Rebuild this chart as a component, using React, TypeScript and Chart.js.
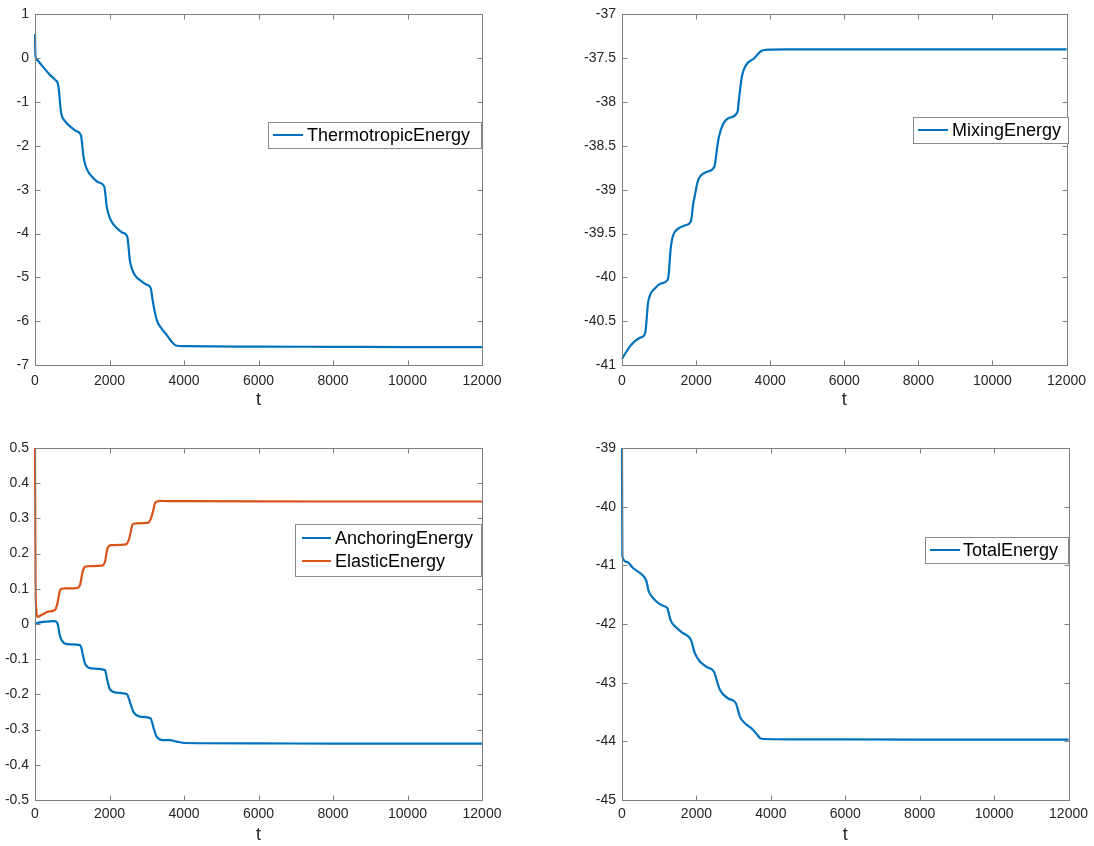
import React, { useEffect, useRef } from "react";
import { Chart, registerables } from "chart.js";

Chart.register(...registerables);

// ---------- data ----------
const xTicks = [0, 2000, 4000, 6000, 8000, 10000, 12000];

const thermoTicks = [1, 0, -1, -2, -3, -4, -5, -6, -7];
const mixingTicks = [-37, -37.5, -38, -38.5, -39, -39.5, -40, -40.5, -41];
const anchorTicks = [0.5, 0.4, 0.3, 0.2, 0.1, 0, -0.1, -0.2, -0.3, -0.4, -0.5];
const totalTicks = [-39, -40, -41, -42, -43, -44, -45];

const thermoT = [0, 10, 40, 200, 400, 550, 615, 645, 675, 710, 790, 950, 1100, 1235, 1265, 1295, 1340, 1420, 1550, 1700, 1860, 1890, 1920, 1970, 2050, 2200, 2350, 2480, 2510, 2545, 2600, 2700, 2850, 3000, 3110, 3145, 3200, 3280, 3400, 3550, 3700, 3800, 4000, 6000, 8000, 10000, 12000];
const thermoE = [0.55, 0.08, -0.02, -0.18, -0.38, -0.5, -0.58, -0.75, -1.05, -1.28, -1.42, -1.56, -1.66, -1.76, -1.95, -2.2, -2.4, -2.58, -2.72, -2.83, -2.93, -3.1, -3.35, -3.55, -3.72, -3.88, -3.98, -4.08, -4.3, -4.6, -4.8, -4.97, -5.08, -5.17, -5.25, -5.45, -5.72, -6.0, -6.17, -6.33, -6.5, -6.56, -6.57, -6.58, -6.585, -6.59, -6.59];

const mixT = [0, 100, 250, 480, 600, 640, 670, 700, 760, 880, 1050, 1230, 1265, 1290, 1320, 1380, 1500, 1680, 1850, 1885, 1915, 1960, 2050, 2270, 2490, 2520, 2560, 2610, 2720, 2900, 3120, 3150, 3190, 3240, 3345, 3570, 3750, 3880, 4500, 8000, 12000];
const mixE = [-40.93, -40.86, -40.77, -40.69, -40.66, -40.6, -40.45, -40.3, -40.2, -40.13, -40.07, -40.03, -39.95, -39.8, -39.65, -39.52, -39.45, -39.41, -39.37, -39.3, -39.18, -39.08, -38.9, -38.8, -38.74, -38.68, -38.55, -38.41, -38.26, -38.18, -38.11, -38.0, -37.85, -37.7, -37.58, -37.5, -37.42, -37.405, -37.4, -37.4, -37.4];

const anchorT = [0, 100, 300, 500, 580, 620, 660, 716, 850, 1210, 1245, 1280, 1342, 1520, 1880, 1910, 1941, 2013, 2190, 2460, 2505, 2550, 2640, 2820, 3100, 3140, 3180, 3266, 3445, 3624, 3800, 4030, 6000, 8000, 10000, 12000];
const anchorE = [0, 0.004, 0.007, 0.008, 0.006, -0.005, -0.03, -0.046, -0.057, -0.06, -0.068, -0.085, -0.112, -0.126, -0.131, -0.143, -0.16, -0.186, -0.195, -0.199, -0.207, -0.222, -0.249, -0.263, -0.268, -0.278, -0.294, -0.32, -0.33, -0.33, -0.334, -0.338, -0.339, -0.34, -0.34, -0.34];

const elasticT = [0, 15, 35, 65, 180, 360, 540, 600, 640, 670, 720, 800, 1120, 1210, 1245, 1280, 1320, 1390, 1790, 1880, 1910, 1940, 1990, 2060, 2440, 2530, 2575, 2612, 2660, 2730, 3040, 3130, 3180, 3220, 3280, 3360, 3600, 4000, 8000, 12000];
const elasticE = [0.5, 0.12, 0.04, 0.02, 0.026, 0.035, 0.04, 0.058, 0.08, 0.095, 0.1, 0.101, 0.102, 0.111, 0.13, 0.149, 0.16, 0.164, 0.166, 0.177, 0.195, 0.213, 0.222, 0.224, 0.226, 0.243, 0.265, 0.281, 0.285, 0.286, 0.288, 0.305, 0.325, 0.343, 0.348, 0.35, 0.349, 0.349, 0.348, 0.348];

const totalT = [0, 10, 125, 304, 572, 644, 680, 706, 800, 932, 1100, 1217, 1250, 1289, 1340, 1423, 1600, 1825, 1880, 1920, 1960, 2094, 2273, 2470, 2505, 2541, 2631, 2854, 3060, 3110, 3168, 3302, 3481, 3600, 3705, 3794, 4500, 8000, 12000];
const totalE = [-39.0, -40.85, -40.94, -41.05, -41.18, -41.25, -41.33, -41.42, -41.53, -41.62, -41.69, -41.73, -41.8, -41.9, -41.98, -42.04, -42.14, -42.24, -42.32, -42.42, -42.5, -42.64, -42.73, -42.81, -42.87, -42.95, -43.12, -43.27, -43.35, -43.45, -43.58, -43.69, -43.78, -43.86, -43.94, -43.96, -43.965, -43.97, -43.97];

// ---------- styles ----------
const FONT = "'Liberation Sans', Arial, Helvetica, sans-serif";
const BLUE = "#0072BD";
const ORANGE = "#D95319";
const AXIS = "#7f7f7f";
const TEXT = "#262626";

const W = 547;
const H = 423;

type Entry = { label: string; color: string; t: number[]; v: number[] };
type Spec = {
  left: number;
  top: number;
  area: { l: number; t: number; r: number; b: number };
  yMin: number;
  yMax: number;
  yTicks: number[];
  xPad: number;
  titlePad: number;
  series: Entry[];
  legend: { x: number; y: number; w: number; h: number; lx0: number; lx1: number; tx: number; rows: number[] };
};

const framePlugin = {
  id: "matlabFrame",
  afterDraw(chart: any, _args: any, opts: any) {
    const { ctx, chartArea: a, scales } = chart;
    ctx.save();
    ctx.strokeStyle = AXIS;
    ctx.lineWidth = 1;
    const L = Math.round(a.left) + 0.5;
    const T = Math.round(a.top) + 0.5;
    const R = Math.round(a.right) + 0.5;
    const B = Math.round(a.bottom) + 0.5;
    ctx.strokeRect(L, T, R - L, B - T);
    const tl = 5;
    ctx.beginPath();
    scales.x.ticks.forEach((tk: any) => {
      const px = Math.round(scales.x.getPixelForValue(tk.value)) + 0.5;
      ctx.moveTo(px, B);
      ctx.lineTo(px, B - tl);
      ctx.moveTo(px, T);
      ctx.lineTo(px, T + tl);
    });
    scales.y.ticks.forEach((tk: any) => {
      const py = Math.round(scales.y.getPixelForValue(tk.value)) + 0.5;
      ctx.moveTo(L, py);
      ctx.lineTo(L + tl, py);
      ctx.moveTo(R, py);
      ctx.lineTo(R - tl, py);
    });
    ctx.stroke();

    const lg = opts.legend;
    const entries = opts.entries;
    ctx.fillStyle = "#ffffff";
    ctx.fillRect(lg.x, lg.y, lg.w, lg.h);
    ctx.strokeStyle = "#8a8a8a";
    ctx.lineWidth = 1;
    ctx.strokeRect(lg.x + 0.5, lg.y + 0.5, lg.w, lg.h);
    entries.forEach((e: any, i: number) => {
      const y = lg.rows[i];
      ctx.strokeStyle = e.color;
      ctx.lineWidth = 2;
      ctx.beginPath();
      ctx.moveTo(lg.lx0, y);
      ctx.lineTo(lg.lx1, y);
      ctx.stroke();
      ctx.fillStyle = "#000000";
      ctx.font = `18px ${FONT}`;
      ctx.textBaseline = "middle";
      ctx.textAlign = "left";
      ctx.fillText(e.label, lg.tx, y + 1);
    });
    ctx.restore();
  },
};

function SubPlot({ spec }: { spec: Spec }) {
  const ref = useRef<HTMLCanvasElement>(null);
  useEffect(() => {
    if (!ref.current) return;
    const s = spec;
    const chart = new Chart(ref.current, {
      type: "line",
      data: {
        datasets: s.series.map((e) => ({
          label: e.label,
          data: e.t.map((x, i) => ({ x, y: e.v[i] })),
          borderColor: e.color,
          backgroundColor: e.color,
          borderWidth: 2.2,
          pointRadius: 0,
          fill: false,
          clip: 3,
          cubicInterpolationMode: "monotone" as const,
        })),
      },
      options: {
        responsive: false,
        maintainAspectRatio: false,
        animation: false,
        events: [],
        layout: { padding: { left: 0, top: s.area.t, right: W - s.area.r, bottom: 0 } },
        plugins: {
          legend: { display: false },
          tooltip: { enabled: false },
          matlabFrame: {
            legend: s.legend,
            entries: s.series.map((e) => ({ label: e.label, color: e.color })),
          },
        } as any,
        scales: {
          x: {
            type: "linear",
            min: 0,
            max: 12000,
            afterBuildTicks: (sc: any) => {
              sc.ticks = xTicks.map((v) => ({ value: v }));
            },
            afterFit: (sc: any) => {
              sc.height = H - s.area.b;
            },
            grid: { display: false, drawTicks: false },
            border: { display: false },
            ticks: {
              padding: s.xPad,
              color: TEXT,
              font: { size: 14, family: FONT },
              maxRotation: 0,
              autoSkip: false,
              callback: (v: any) => String(v),
            },
            title: {
              display: true,
              text: "t",
              color: TEXT,
              font: { size: 18, family: FONT },
              padding: { top: 0, bottom: s.titlePad },
            },
          },
          y: {
            type: "linear",
            min: s.yMin,
            max: s.yMax,
            afterBuildTicks: (sc: any) => {
              sc.ticks = s.yTicks.map((v) => ({ value: v }));
            },
            afterFit: (sc: any) => {
              sc.width = s.area.l;
            },
            grid: { display: false, drawTicks: false },
            border: { display: false },
            ticks: {
              padding: 6,
              color: TEXT,
              font: { size: 14, family: FONT },
              autoSkip: false,
              callback: (v: any) => String(v),
            },
          },
        },
      },
      plugins: [framePlugin],
    });
    return () => chart.destroy();
  }, [spec]);
  return (
    <canvas
      ref={ref}
      width={W}
      height={H}
      style={{ position: "absolute", left: spec.left, top: spec.top, width: W, height: H }}
    />
  );
}

const specs: Spec[] = [
  {
    left: 0,
    top: 0,
    area: { l: 35, t: 12, r: 482, b: 365 },
    yMin: -7,
    yMax: 1,
    yTicks: thermoTicks,
    xPad: 8,
    titlePad: 12,
    series: [{ label: "ThermotropicEnergy", color: BLUE, t: thermoT, v: thermoE }],
    legend: { x: 268, y: 122, w: 213, h: 26, lx0: 273, lx1: 303, tx: 307, rows: [135] },
  },
  {
    left: W,
    top: 0,
    area: { l: 75, t: 12, r: 522, b: 365 },
    yMin: -41,
    yMax: -37,
    yTicks: mixingTicks,
    xPad: 8,
    titlePad: 12,
    series: [{ label: "MixingEnergy", color: BLUE, t: mixT, v: mixE }],
    legend: { x: 366, y: 117, w: 155, h: 26, lx0: 371, lx1: 401, tx: 405, rows: [130] },
  },
  {
    left: 0,
    top: H,
    area: { l: 35, t: 25, r: 482, b: 377 },
    yMin: -0.5,
    yMax: 0.5,
    yTicks: anchorTicks,
    xPad: 6,
    titlePad: 0,
    series: [
      { label: "AnchoringEnergy", color: BLUE, t: anchorT, v: anchorE },
      { label: "ElasticEnergy", color: ORANGE, t: elasticT, v: elasticE },
    ],
    legend: { x: 295, y: 101, w: 186, h: 52, lx0: 302, lx1: 331, tx: 335, rows: [115, 138] },
  },
  {
    left: W,
    top: H,
    area: { l: 75, t: 25, r: 522, b: 377 },
    yMin: -45,
    yMax: -39,
    yTicks: totalTicks,
    xPad: 6,
    titlePad: 0,
    series: [{ label: "TotalEnergy", color: BLUE, t: totalT, v: totalE }],
    legend: { x: 378, y: 114, w: 143, h: 26, lx0: 383, lx1: 413, tx: 416, rows: [127] },
  },
];

export default function App() {
  return (
    <div
      style={{
        position: "fixed",
        left: 0,
        top: 0,
        width: 1094,
        height: 846,
        background: "#ffffff",
        overflow: "hidden",
      }}
    >
      {specs.map((s, i) => (
        <SubPlot key={i} spec={s} />
      ))}
    </div>
  );
}
